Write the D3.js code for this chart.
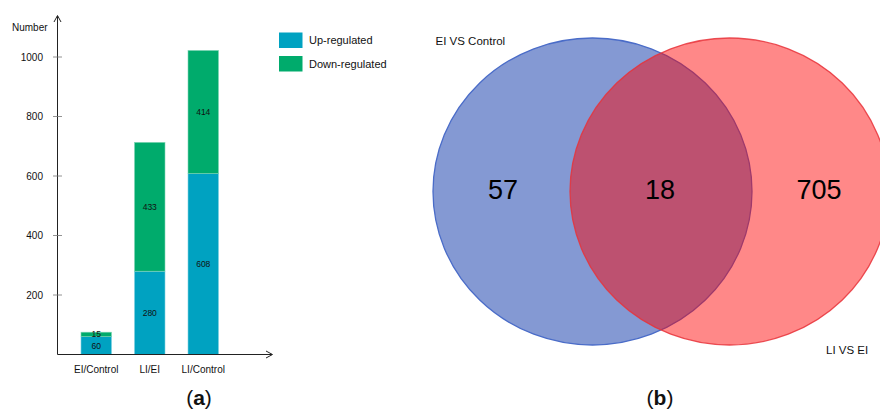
<!DOCTYPE html>
<html>
<head>
<meta charset="utf-8">
<script src="https://cdn.jsdelivr.net/npm/d3@7"></script>
<style>
  html, body { margin: 0; padding: 0; background: #fff; }
  svg { display: block; }
  text { font-family: "Liberation Sans", Arial, sans-serif; }
</style>
</head>
<body>
<svg id="chart" width="880" height="410"></svg>
<script>
// Panel (a): differentially expressed genes per comparison
const comparisons = ["EI/Control", "LI/EI", "LI/Control"];
const upRegulated = [60, 280, 608];
const downRegulated = [15, 433, 414];
const yTicks = [200, 400, 600, 800, 1000];
const seriesNames = ["Up-regulated", "Down-regulated"];
const seriesColors = ["#00a2c1", "#00ab6c"];

// Panel (b): overlap of the two comparisons
const vennNames = ["EI VS Control", "LI VS EI"];
const vennOnly = [57, 705];
const vennShared = 18;

const svg = d3.select("#chart");

// ---------- stacked bar chart ----------
const x0 = 57.5, y0 = 354.5;
const y = d3.scaleLinear().domain([0, 1000]).range([y0, 57]);
const x = d3.scaleBand().domain(comparisons).range([70.3, 229.2]).paddingInner(0.43).paddingOuter(0.2);

const stackData = comparisons.map((c, i) => ({ cat: c, up: upRegulated[i], down: downRegulated[i] }));
const stacked = d3.stack().keys(["up", "down"])(stackData);

const gBars = svg.append("g");
stacked.forEach((layer, li) => {
  gBars.selectAll(null).data(layer).join("rect")
    .attr("x", d => x(d.data.cat))
    .attr("width", x.bandwidth())
    .attr("y", d => y(d[1]))
    .attr("height", d => y(d[0]) - y(d[1]))
    .attr("fill", seriesColors[li])
    .attr("stroke", li === 0 ? "#7fd0e0" : "#7fd5b5")
    .attr("stroke-width", 0.6);
  gBars.selectAll(null).data(layer).join("text")
    .attr("x", d => x(d.data.cat) + x.bandwidth() / 2)
    .attr("y", d => y((d[0] + d[1]) / 2))
    .attr("dy", "0.35em")
    .attr("text-anchor", "middle")
    .attr("font-size", 8.5)
    .attr("fill", "#111")
    .text(d => d[1] - d[0]);
});

// y axis with arrow
const gAxis = svg.append("g").attr("stroke", "#222").attr("fill", "none");
gAxis.append("line").attr("x1", x0).attr("x2", x0).attr("y1", y0).attr("y2", 16).attr("stroke-width", 1);
gAxis.append("path").attr("d", `M${x0 - 3.5},${22} L${x0},${15.5} L${x0 + 3.5},${22}`).attr("stroke-width", 1);
// x axis with arrow
gAxis.append("line").attr("x1", x0).attr("x2", 272).attr("y1", y0).attr("y2", y0).attr("stroke-width", 1);
gAxis.append("path").attr("d", `M${266},${y0 - 3.5} L${272.5},${y0} L${266},${y0 + 3.5}`).attr("stroke-width", 1);

// tick marks crossing the axis and labels
svg.append("g").selectAll("line").data(yTicks).join("line")
  .attr("x1", x0 - 4.5).attr("x2", x0 + 4.5)
  .attr("y1", d => y(d)).attr("y2", d => y(d))
  .attr("stroke", "#777").attr("stroke-width", 0.8);
svg.append("g").selectAll("text").data(yTicks).join("text")
  .attr("x", 43).attr("y", d => y(d)).attr("dy", "0.35em")
  .attr("text-anchor", "end").attr("font-size", 10).attr("fill", "#111")
  .text(d => d);

svg.append("text").attr("x", 12).attr("y", 27).attr("dy", "0.35em")
  .attr("font-size", 10).attr("fill", "#111").text("Number");

svg.append("g").selectAll("text").data(comparisons).join("text")
  .attr("x", d => x(d) + x.bandwidth() / 2).attr("y", 369).attr("dy", "0.35em")
  .attr("text-anchor", "middle").attr("font-size", 10).attr("fill", "#111")
  .text(d => d);

// legend
const legend = svg.append("g");
seriesNames.forEach((name, i) => {
  legend.append("rect").attr("x", 279).attr("y", 32.5 + i * 23.5)
    .attr("width", 23.5).attr("height", 15.5).attr("fill", seriesColors[i]);
  legend.append("text").attr("x", 309).attr("y", 40.5 + i * 23.5).attr("dy", "0.35em")
    .attr("font-size", 11).attr("fill", "#111").text(name);
});

// ---------- Venn diagram ----------
const rx = 159.5, ry = 153.5, cy = 191.5;
const centers = [592.5, 729.5];
svg.append("ellipse").attr("cx", centers[0]).attr("cy", cy).attr("rx", rx).attr("ry", ry)
  .attr("fill", "#8499d3").attr("stroke", "#4a6cc8").attr("stroke-width", 1.3);
svg.append("ellipse").attr("cx", centers[1]).attr("cy", cy).attr("rx", rx).attr("ry", ry)
  .attr("fill", "rgba(255,0,0,0.465)").attr("stroke", "rgba(232,50,58,0.85)").attr("stroke-width", 1.3);

const vennText = svg.append("g").attr("font-size", 27).attr("fill", "#000").attr("text-anchor", "middle");
vennText.append("text").attr("x", 503).attr("y", 190).attr("dy", "0.35em").text(vennOnly[0]);
vennText.append("text").attr("x", 660).attr("y", 190).attr("dy", "0.35em").text(vennShared);
vennText.append("text").attr("x", 819).attr("y", 190).attr("dy", "0.35em").text(vennOnly[1]);

svg.append("text").attr("x", 435.5).attr("y", 40.7).attr("dy", "0.35em")
  .attr("font-size", 11.5).attr("fill", "#111").text(vennNames[0]);
svg.append("text").attr("x", 826).attr("y", 350).attr("dy", "0.35em")
  .attr("font-size", 11.5).attr("fill", "#111").text(vennNames[1]);

// panel captions
const caps = [["a", 199], ["b", 660]];
caps.forEach(([letter, cx]) => {
  const t = svg.append("text").attr("x", cx).attr("y", 405).attr("text-anchor", "middle")
    .attr("font-family", "'DejaVu Serif', 'Liberation Serif', serif").attr("font-size", 21).attr("fill", "#111");
  t.append("tspan").text("(");
  t.append("tspan").attr("font-weight", "bold").text(letter);
  t.append("tspan").text(")");
});
</script>
</body>
</html>
